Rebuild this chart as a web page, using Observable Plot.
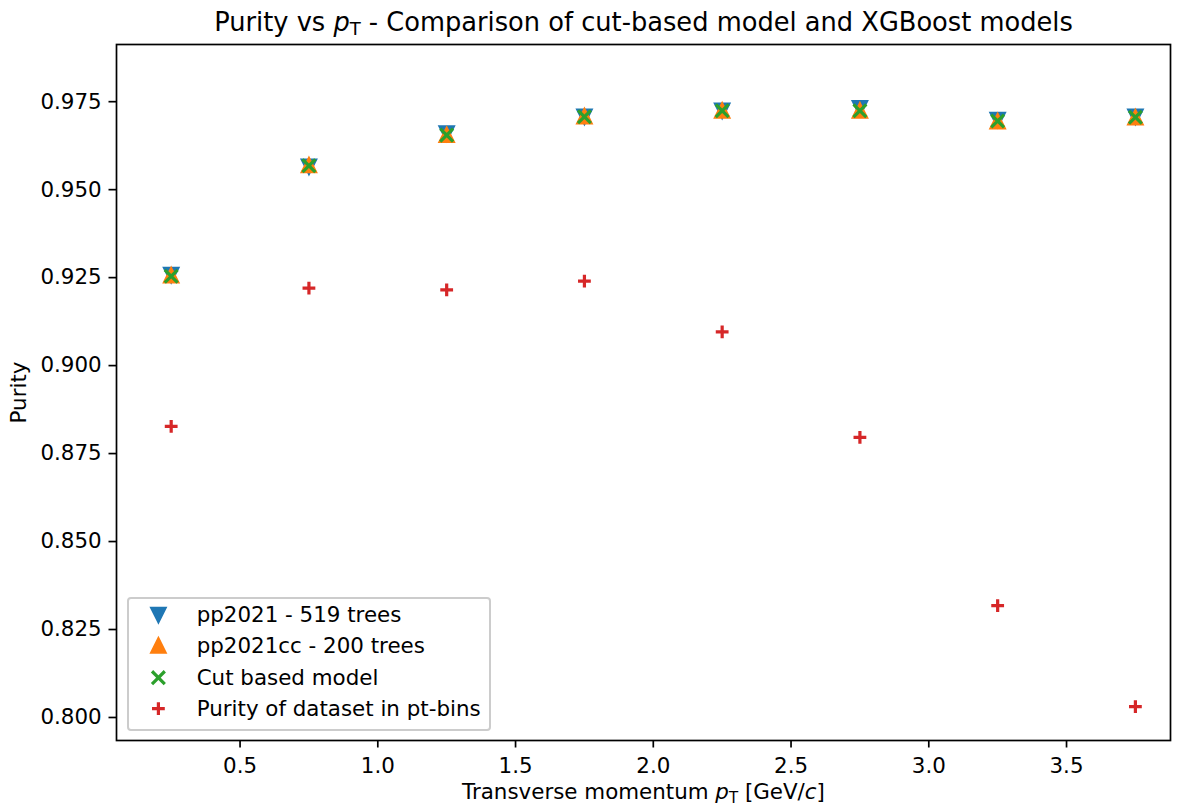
<!DOCTYPE html>
<html>
<head>
<meta charset="utf-8">
<script src="https://cdn.jsdelivr.net/npm/d3@7"></script>
<script src="https://cdn.jsdelivr.net/npm/@observablehq/plot@0.6"></script>
<style>
  html, body { margin: 0; padding: 0; background: #fff; }
  #chart { position: relative; width: 1183px; height: 805px; font-family: "DejaVu Sans", sans-serif; }
  #chart > svg { position: absolute; left: 0; top: 0; }
  #legend {
    position: absolute; box-sizing: border-box; width: max-content;
    border: 2px solid #cccccc; border-radius: 4px; background: rgba(255,255,255,0.8);
    padding: 0 8.4px 4.4px 8.4px; font-size: 21.4px; color: #000;
  }
  #legend .row { display: flex; align-items: center; height: 31.3px; }
  #legend .row svg { flex: none; overflow: visible; }
  #legend .row span { margin-left: 16.8px; white-space: nowrap; }
</style>
</head>
<body>
<div id="chart"></div>
<script>
// Transverse momentum bin centres (GeV/c)
const ptBins = [0.25, 0.75, 1.25, 1.75, 2.25, 2.75, 3.25, 3.75];

// Purity per pT bin for each selection
const purityPp2021   = [0.9258, 0.9566, 0.9660, 0.9708, 0.9725, 0.9732, 0.9699, 0.9708];
const purityPp2021cc = [0.9256, 0.9569, 0.9655, 0.9708, 0.9724, 0.9724, 0.9694, 0.9705];
const purityCutBased = [0.9254, 0.9568, 0.9655, 0.9707, 0.9724, 0.9724, 0.9695, 0.9706];
const purityDataset  = [0.8827, 0.9220, 0.9215, 0.9240, 0.9096, 0.8796, 0.8318, 0.8031];

const seriesNames  = ["pp2021 - 519 trees", "pp2021cc - 200 trees", "Cut based model", "Purity of dataset in pt-bins"];
const seriesValues = [purityPp2021, purityPp2021cc, purityCutBased, purityDataset];
const seriesColors = ["#1f77b4", "#ff7f0e", "#2ca02c", "#d62728"];

const xTicks = [0.5, 1.0, 1.5, 2.0, 2.5, 3.0, 3.5];
const yTicks = [0.800, 0.825, 0.850, 0.875, 0.900, 0.925, 0.950, 0.975];

const titleParts  = [["Purity vs "], ["p", "it"], ["T", "sub"], [" - Comparison of cut-based model and XGBoost models"]];
const xLabelParts = [["Transverse momentum "], ["p", "it"], ["T", "sub"], [" [GeV/"], ["c", "it"], ["]"]];
const yLabel = "Purity";

// Marker shapes in the matplotlib style: box-centred, half-extent = r
const triangleDown = { draw(ctx, size) { const h = Math.sqrt(size / Math.PI); ctx.moveTo(0, h); ctx.lineTo(-h, -h); ctx.lineTo(h, -h); ctx.closePath(); } };
const triangleUp   = { draw(ctx, size) { const h = Math.sqrt(size / Math.PI); ctx.moveTo(0, -h); ctx.lineTo(h, h); ctx.lineTo(-h, h); ctx.closePath(); } };
const crossX       = { draw(ctx, size) { const h = Math.sqrt(size / Math.PI); ctx.moveTo(-h, -h); ctx.lineTo(h, h); ctx.moveTo(-h, h); ctx.lineTo(h, -h); } };
const plusSign     = { draw(ctx, size) { const h = Math.sqrt(size / Math.PI); ctx.moveTo(-h, 0); ctx.lineTo(h, 0); ctx.moveTo(0, -h); ctx.lineTo(0, h); } };
const seriesSymbols = [triangleDown, triangleUp, crossX, plusSign];
const seriesFilled  = [true, true, false, false];

const markerR = 6.4;
const markerStroke = 3.2;

const rows = seriesNames.flatMap((name, i) =>
  ptBins.map((pt, j) => ({ pt, purity: seriesValues[i][j], series: name }))
);

const plain = parts => parts.map(p => p[0]).join("");

const fs = 21.4;
const titleSize = 25.7;
const chart = Plot.plot({
  width: 1183,
  height: 805,
  marginTop: 44,
  marginLeft: 116,
  marginRight: 13,
  marginBottom: 65,
  style: { fontFamily: '"DejaVu Sans", sans-serif', fontSize: fs + "px", color: "#000", background: "#fff", overflow: "visible" },
  x: { domain: [0.0515, 3.8774] },
  y: { domain: [0.79346, 0.99125] },
  marks: [
    ...seriesNames.map((name, i) => Plot.dot(rows.filter(d => d.series === name), {
      x: "pt", y: "purity",
      symbol: seriesSymbols[i], r: markerR,
      fill: seriesFilled[i] ? seriesColors[i] : "none",
      stroke: seriesColors[i], strokeWidth: markerStroke,
      strokeLinejoin: "miter", strokeLinecap: "butt"
    })),
    Plot.axisX({ ticks: xTicks, tickFormat: d3.format(".1f"), tickSize: 7.5, tickPadding: 9.5, strokeWidth: 1.7, label: null, fontSize: fs }),
    Plot.axisY({ ticks: yTicks, tickFormat: d3.format(".3f"), tickSize: 7.5, tickPadding: 7.3, strokeWidth: 1.7, label: null, fontSize: fs }),
    Plot.frame({ stroke: "#000", strokeWidth: 1.7 }),
    Plot.text([plain(titleParts)], { frameAnchor: "top", dy: -22, textAnchor: "middle", lineAnchor: "middle", fontSize: titleSize }),
    Plot.text([plain(xLabelParts)], { frameAnchor: "bottom", dy: 51.3, textAnchor: "middle", lineAnchor: "middle", fontSize: fs }),
    Plot.text([yLabel], { frameAnchor: "left", dx: -97, rotate: -90, textAnchor: "middle", lineAnchor: "middle", fontSize: fs })
  ]
});

// Rebuild labels that contain math-style italics and subscripts
function richText(svg, parts, size) {
  const shift = 0.18 * size;
  d3.select(svg).selectAll("text")
    .filter(function () { return this.textContent === plain(parts); })
    .each(function () {
      const t = d3.select(this).text(null);
      let inSub = false;
      for (const [s, kind] of parts) {
        const ts = t.append("tspan").text(s);
        if (kind === "it") ts.attr("font-style", "italic");
        if (kind === "sub") { ts.attr("font-size", 0.7 * size).attr("dy", shift); inSub = true; }
        else if (inSub) { ts.attr("dy", -shift); inSub = false; }
      }
    });
}
richText(chart, titleParts, titleSize);
richText(chart, xLabelParts, fs);

const root = document.getElementById("chart");
root.appendChild(chart);

// Legend box in the lower-left corner of the axes
const legend = d3.select(root).append("div").attr("id", "legend")
  .style("left", (116 + 10.7) + "px")
  .style("bottom", (805 - 730.6) + "px");
const symbolSize = Math.PI * markerR * markerR;
seriesNames.forEach((name, i) => {
  const row = legend.append("div").attr("class", "row");
  const s = row.append("svg").attr("width", 42.8).attr("height", 31.3);
  s.append("path")
    .attr("transform", "translate(21.4,15.65)")
    .attr("d", d3.symbol(seriesSymbols[i], symbolSize)())
    .attr("fill", seriesFilled[i] ? seriesColors[i] : "none")
    .attr("stroke", seriesColors[i])
    .attr("stroke-width", markerStroke)
    .attr("stroke-linejoin", "miter");
  row.append("span").text(name);
});
</script>
</body>
</html>
